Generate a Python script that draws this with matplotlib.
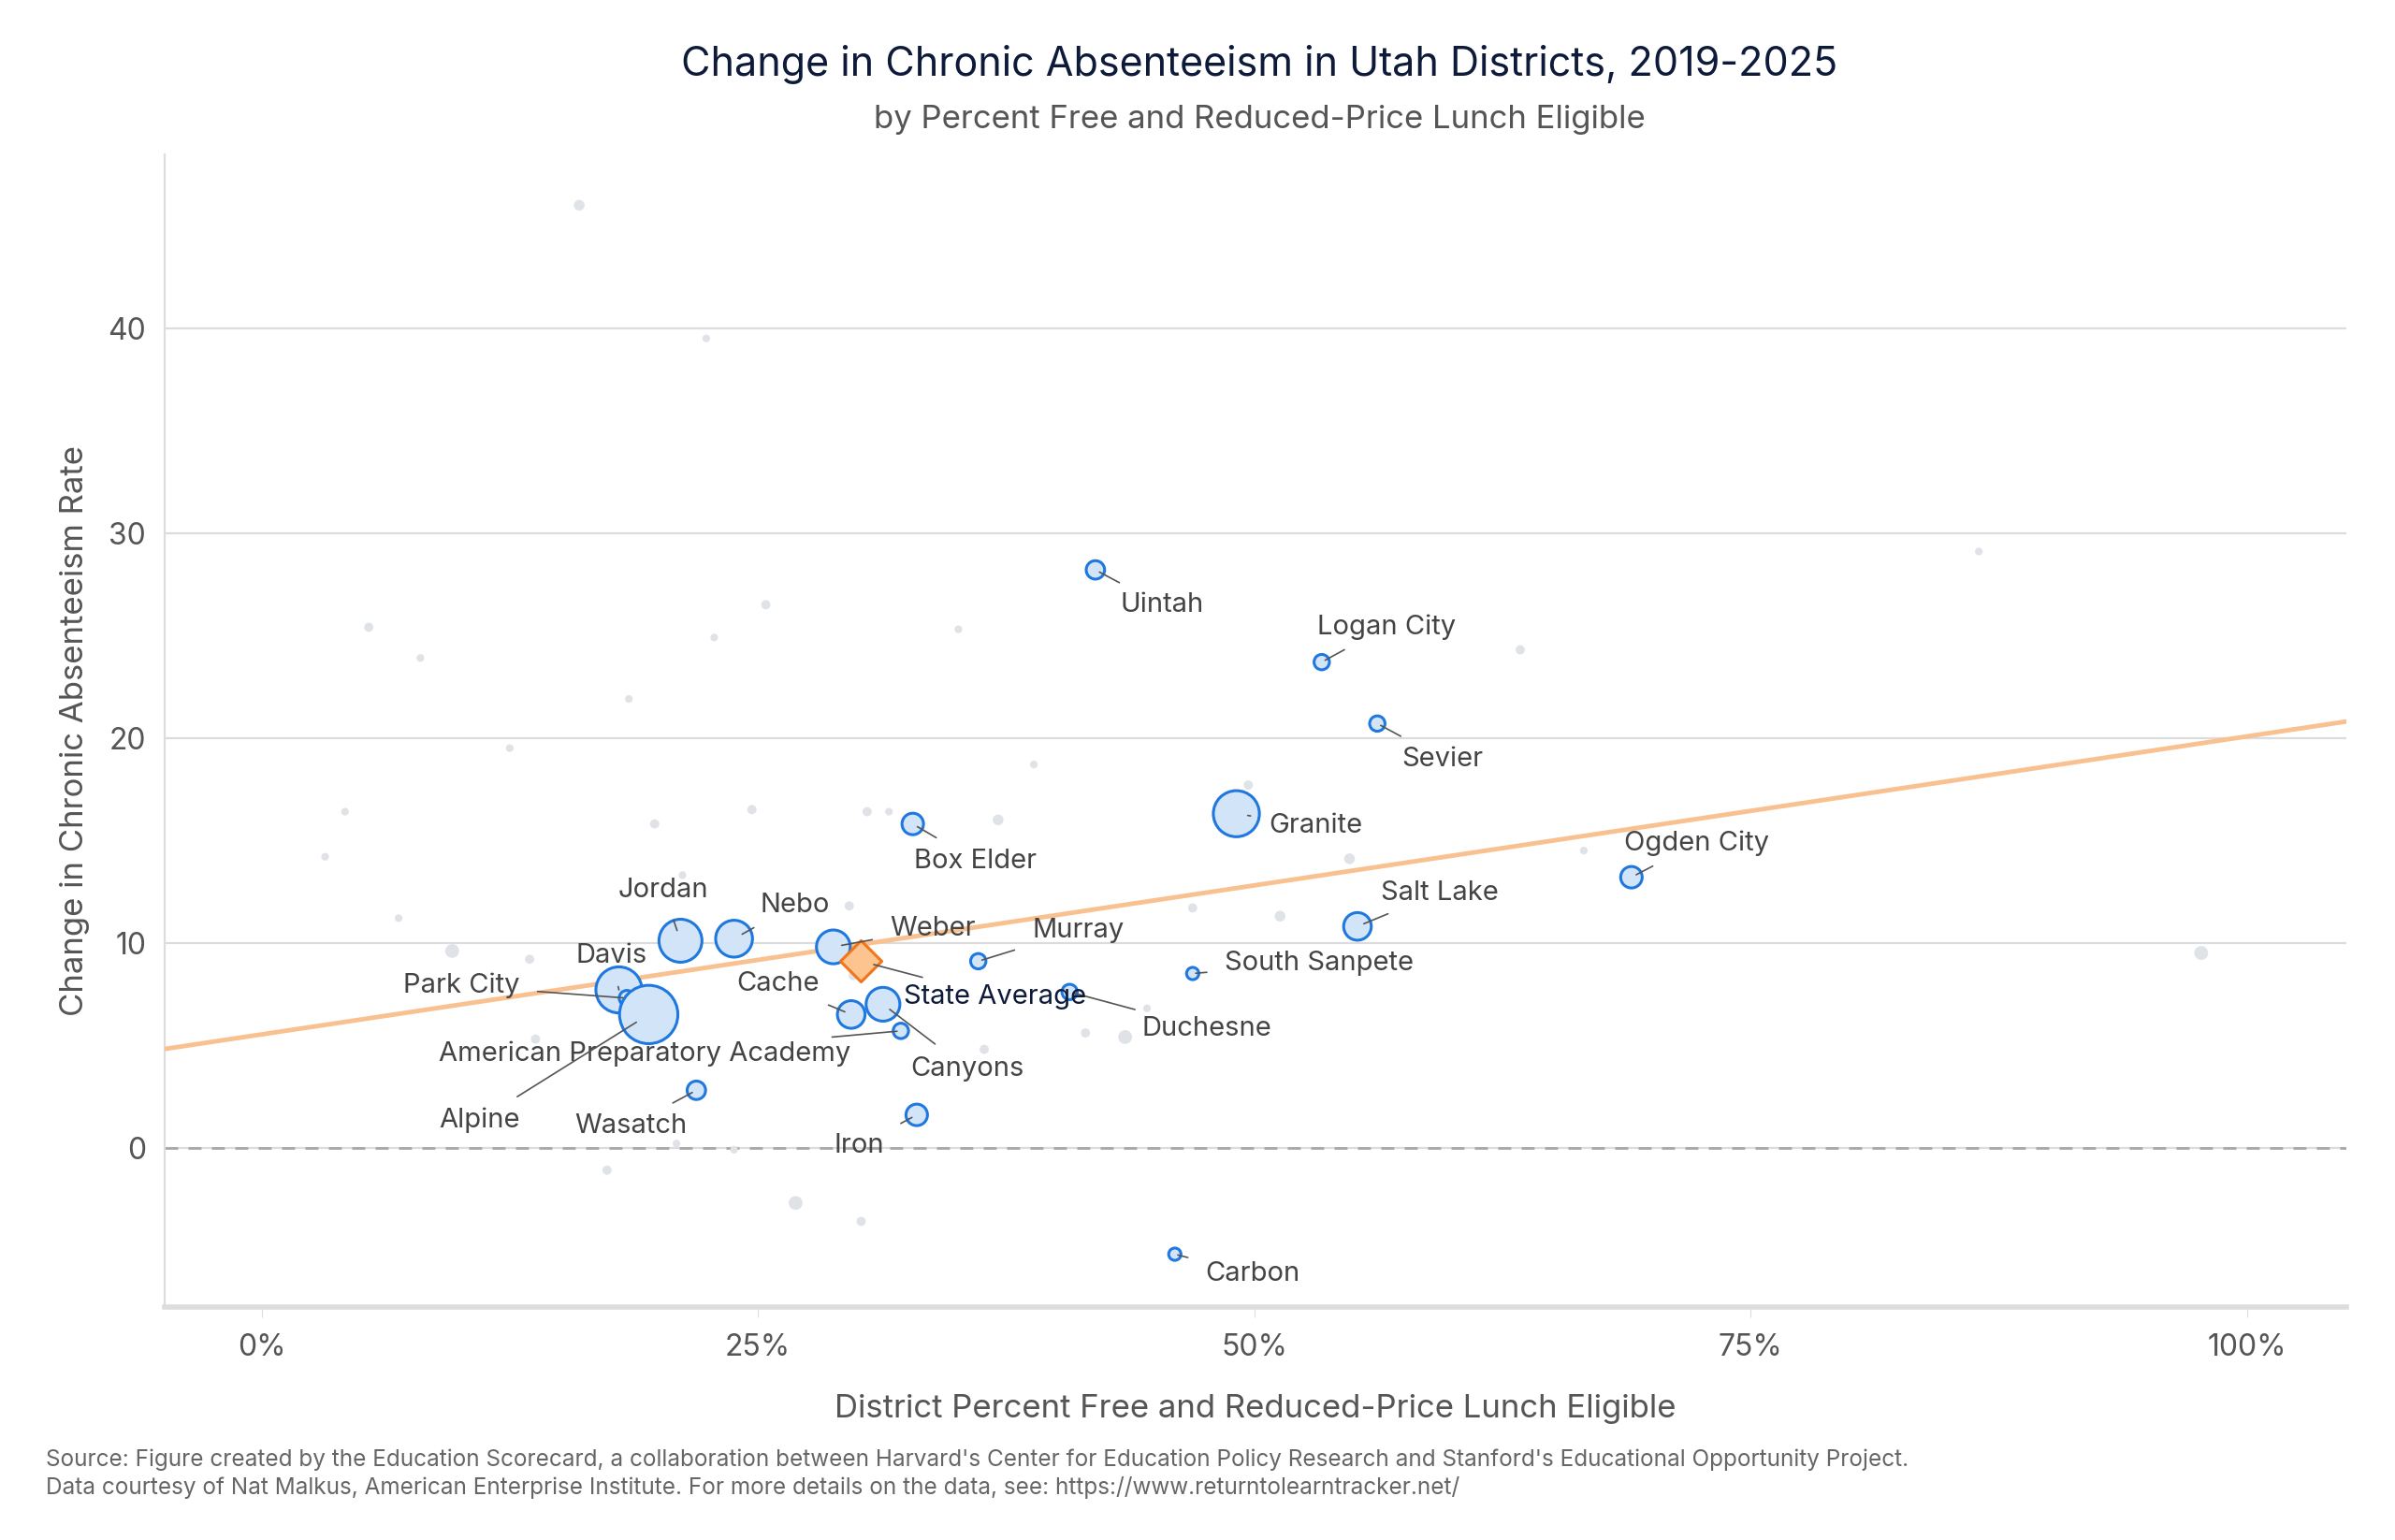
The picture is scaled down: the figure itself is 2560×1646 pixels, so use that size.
import numpy as np
import matplotlib
matplotlib.use("Agg")
import matplotlib.pyplot as plt

plt.rcParams["font.family"] = ["Inter", "DejaVu Sans"]

# --- labelled districts: x = % FRPL, y = change in chronic absenteeism, size = bubble radius (px)
names = ["Uintah", "Logan City", "Sevier", "Granite", "Box Elder", "Ogden City",
         "Salt Lake", "Jordan", "Nebo", "Weber", "Murray", "South Sanpete",
         "Davis", "Park City", "American Preparatory Academy", "Alpine", "Cache",
         "Canyons", "Duchesne", "Wasatch", "Iron", "Carbon"]
dist_x = [42.0, 53.4, 56.2, 49.1, 32.8, 69.0, 55.2, 21.1, 23.8, 28.8, 36.1, 46.9,
          18.0, 18.4, 32.2, 19.5, 29.7, 31.3, 40.7, 21.9, 33.0, 46.0]
dist_y = [28.2, 23.7, 20.7, 16.3, 15.8, 13.2, 10.8, 10.1, 10.2, 9.8, 9.1, 8.5,
          7.7, 7.3, 5.7, 6.5, 6.5, 7.0, 7.6, 2.8, 1.6, -5.2]
dist_r = [6, 5, 5, 15, 7, 7, 9, 14, 12, 11, 5, 4, 15, 5, 5, 19, 9, 11, 5, 6, 7, 4]

# --- other districts (grey)
oth_x = [16.0, 22.4, 86.5, 25.4, 5.4, 22.8, 35.1, 8.0, 63.4, 18.5, 12.5, 38.9, 49.7,
         4.2, 24.7, 30.5, 31.6, 37.1, 19.8, 3.2, 54.8, 66.6, 21.2, 6.9, 29.6, 46.9,
         51.3, 9.6, 13.5, 97.7, 29.8, 13.8, 36.4, 41.5, 43.5, 44.6, 20.9, 23.8, 17.4,
         26.9, 30.2]
oth_y = [46.0, 39.5, 29.1, 26.5, 25.4, 24.9, 25.3, 23.9, 24.3, 21.9, 19.5, 18.7, 17.7,
         16.4, 16.5, 16.4, 16.4, 16.0, 15.8, 14.2, 14.1, 14.5, 13.3, 11.2, 11.8, 11.7,
         11.3, 9.6, 9.2, 9.5, 8.4, 5.3, 4.8, 5.6, 5.4, 6.8, 0.2, -0.1, -1.1, -2.7, -3.6]
oth_r = [3.5, 2.5, 2.5, 3, 3, 2.5, 2.5, 2.5, 3, 2.5, 2.5, 2.5, 3, 2.5, 3, 3, 2.5, 3.5,
         3, 2.5, 3.5, 2.5, 2.5, 2.5, 3, 3, 3.5, 4.5, 3, 4.5, 3, 3, 3, 3, 4.5, 2.5, 2.5,
         2.5, 3, 4.5, 3]

state_x, state_y = 30.2, 9.1
trend_x = [-5.0, 105.0]
trend_y = [4.8, 20.8]

# label offsets in display px (dx right, dy down) and alignment
label_off = {
    "Uintah": (16, 23, "left"), "Logan City": (-3, -23, "left"), "Sevier": (16, 23, "left"),
    "Granite": (21, 8, "left"), "Box Elder": (1, 24, "left"), "Ogden City": (-5, -22, "left"),
    "Salt Lake": (15, -22, "left"), "Jordan": (-11, -33, "center"), "Nebo": (17, -22, "left"),
    "Weber": (37, -12, "left"), "Murray": (35, -20, "left"), "South Sanpete": (21, -7, "left"),
    "Davis": (-5, -22, "center"), "Park City": (-70, -8, "right"),
    "American Preparatory Academy": (-33, 15, "right"), "Alpine": (-84, 69, "right"),
    "Cache": (-21, -20, "right"), "Canyons": (18, 42, "left"), "Duchesne": (47, 24, "left"),
    "Wasatch": (-6, 23, "right"), "Iron": (-21, 20, "right"), "Carbon": (20, 13, "left"),
}

PX = 2560 / 1560 * 0.72  # display px -> points

fig = plt.figure(figsize=(25.6, 16.46), dpi=100)
ax = fig.add_axes([0.0686, 0.151, 0.911, 0.749])

ax.set_xlim(-4.9, 105)
ax.set_ylim(-7.8, 48.5)

ax.set_yticks([0, 10, 20, 30, 40])
ax.yaxis.grid(True, color="#dcdcdc", lw=1.6)
ax.set_axisbelow(True)
ax.axhline(0, color="#a8a8a8", lw=2, ls=(0, (5, 4)), zorder=1)

ax.scatter(oth_x, oth_y, s=[(2 * r * PX) ** 2 for r in oth_r], color="#dfe2e7",
           linewidths=0, zorder=2)
ax.plot(trend_x, trend_y, color="#f9c190", lw=3.5, zorder=3)
ax.scatter(dist_x, dist_y, s=[(2 * r * PX) ** 2 for r in dist_r], facecolor="#d2e4f7",
           edgecolor="#1f77e0", linewidths=2.2, zorder=4)
ax.scatter([state_x], [state_y], marker="D", s=(19 * PX) ** 2, facecolor="#fdc490",
           edgecolor="#f0761a", linewidths=2.2, zorder=5)

for n, x, y, r in zip(names, dist_x, dist_y, dist_r):
    dx, dy, ha = label_off[n]
    ax.annotate(n, (x, y), xytext=(dx * PX, -dy * PX), textcoords="offset points",
                ha=ha, va="center", fontsize=21, color="#444444", zorder=6,
                arrowprops=dict(arrowstyle="-", color="#555555", lw=1.2,
                                shrinkA=12, shrinkB=r * PX * 0.5))
ax.annotate("State Average", (state_x, state_y), xytext=(28 * PX, -23 * PX),
            textcoords="offset points", ha="left", va="center", fontsize=21,
            color="#0d1a3a", zorder=6,
            arrowprops=dict(arrowstyle="-", color="#555555", lw=1.2, shrinkA=12, shrinkB=10))

ax.set_xticks([0, 25, 50, 75, 100])
ax.set_xticklabels(["0%", "25%", "50%", "75%", "100%"])
ax.tick_params(axis="x", length=8, color="#dddddd", labelsize=23, labelcolor="#555555", pad=12)
ax.tick_params(axis="y", length=0, labelsize=23, labelcolor="#555555", pad=14)
for s in ["top", "right"]:
    ax.spines[s].set_visible(False)
ax.spines["left"].set_color("#dddddd")
ax.spines["left"].set_linewidth(1.6)
ax.spines["bottom"].set_color("#dddddd")
ax.spines["bottom"].set_linewidth(4)

ax.set_xlabel("District Percent Free and Reduced-Price Lunch Eligible", fontsize=25,
              color="#555555", labelpad=24)
ax.set_ylabel("Change in Chronic Absenteeism Rate", fontsize=25, color="#555555",
              labelpad=14)

fig.text(0.526, 0.958, "Change in Chronic Absenteeism in Utah Districts, 2019-2025",
         ha="center", va="center", fontsize=31, color="#0d1a3a")
fig.text(0.526, 0.922, "by Percent Free and Reduced-Price Lunch Eligible",
         ha="center", va="center", fontsize=25, color="#555555")
fig.text(0.019, 0.043, "Source: Figure created by the Education Scorecard, a collaboration between "
         "Harvard's Center for Education Policy Research and Stanford's Educational Opportunity Project.\n"
         "Data courtesy of Nat Malkus, American Enterprise Institute. For more details on the data, "
         "see: https://www.returntolearntracker.net/",
         ha="left", va="center", fontsize=17.5, color="#666666", linespacing=1.3)

fig.savefig("out.png", dpi=100)
